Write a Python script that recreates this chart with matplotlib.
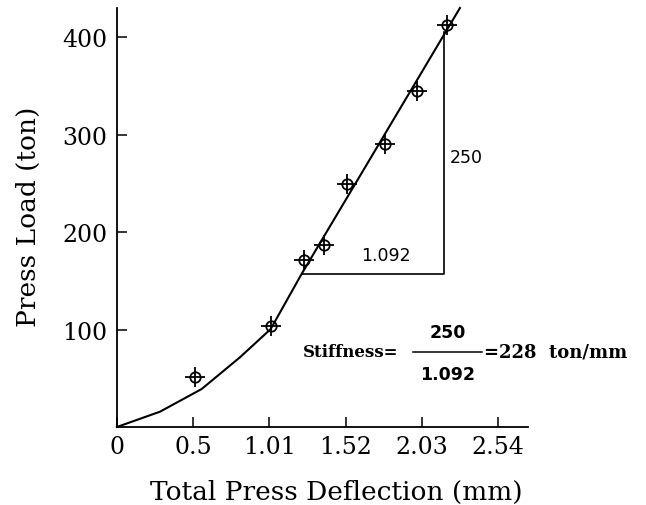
import matplotlib.pyplot as plt

# measured points (deflection mm, load ton)
defl = [0.52, 1.025, 1.249, 1.38, 1.533, 1.787, 1.998, 2.198]
load = [51, 104, 171, 187, 249, 290, 345, 413]

# fitted curve
curve_x = [0, 0.287, 0.565, 0.82, 1.025, 1.231, 2.287]
curve_y = [0, 15.7, 39, 71.5, 100.5, 157, 430]

# stiffness triangle corners
tri_x = [1.231, 2.18, 2.18]
tri_y = [157, 157, 405]

xticks = [0, 0.508, 1.016, 1.524, 2.032, 2.54]
xtick_labels = ["0", "0.5", "1.01", "1.52", "2.03", "2.54"]
yticks = [100, 200, 300, 400]

serif = "DejaVu Serif"
sans = "DejaVu Sans"

fig = plt.figure(figsize=(6.46, 5.06), dpi=100)
ax = fig.add_axes([0.1811, 0.1542, 0.636, 0.828])

ax.plot(curve_x, curve_y, color="black", lw=1.5, clip_on=False)
ax.plot(tri_x, tri_y, color="black", lw=1.2)

# circle with cross markers
ax.plot(defl, load, ls="none", marker="o", ms=7.5, mfc="none", mec="black", mew=1.3)
ax.plot(defl, load, ls="none", marker="+", ms=15, mec="black", mew=1.3)

# triangle labels
ax.text(2.22, 277, "250", fontsize=12.5, family=sans, va="center", ha="left")
ax.text(1.793, 176, "1.092", fontsize=12.5, family=sans, va="center", ha="center")

# stiffness formula
ax.text(1.24, 77, "Stiffness=", fontsize=12, family=serif, weight="bold", va="center", ha="left")
ax.plot([1.973, 2.433], [77, 77], color="black", lw=1.1)
ax.text(2.207, 97, "250", fontsize=12.5, family=sans, weight="bold", va="center", ha="center")
ax.text(2.207, 54, "1.092", fontsize=12.5, family=sans, weight="bold", va="center", ha="center")
ax.text(2.45, 77, "=228  ton/mm", fontsize=13, family=serif, weight="bold", va="center", ha="left")

ax.set_xlim(0, 2.74)
ax.set_ylim(0, 430)
ax.set_xticks(xticks)
ax.set_xticklabels(xtick_labels, family=serif, fontsize=17)
ax.set_yticks(yticks)
ax.set_yticklabels([str(v) for v in yticks], family=serif, fontsize=17)
ax.tick_params(direction="in", length=7, width=1.1, pad=7)
ax.tick_params(axis="x", pad=6)

for s in ["top", "right"]:
    ax.spines[s].set_visible(False)
for s in ["left", "bottom"]:
    ax.spines[s].set_linewidth(1.3)

ax.set_xlabel("Total Press Deflection (mm)", family=serif, fontsize=19, va="center")
ax.xaxis.set_label_coords(0.533, -0.153)
ax.set_ylabel("Press Load (ton)", family=serif, fontsize=19, va="center")
ax.yaxis.set_label_coords(-0.2165, 0.504)

fig.savefig("out.png", dpi=100)
